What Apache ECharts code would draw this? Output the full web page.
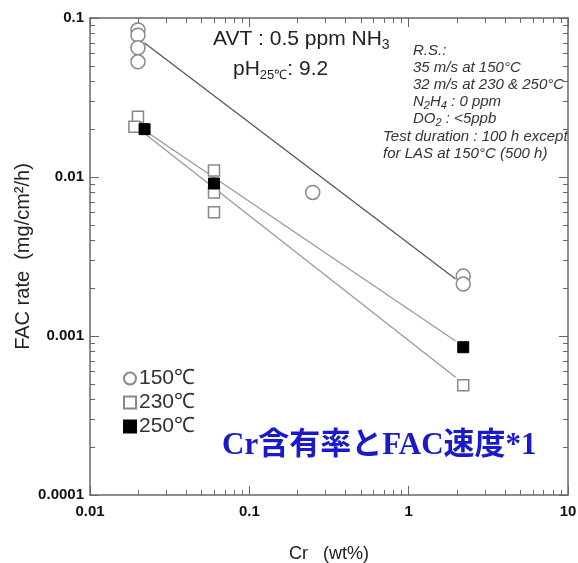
<!DOCTYPE html>
<html>
<head>
<meta charset="utf-8">
<script src="https://cdn.jsdelivr.net/npm/echarts@6/dist/echarts.min.js"></script>
<style>
html,body{margin:0;padding:0;background:#fff;}
#main{width:578px;height:563px;}
</style>
</head>
<body>
<div id="main"></div>
<script>
// ---- data ----
const x150 = [0.02, 0.02, 0.02, 0.02, 0.25, 2.2, 2.2];
const y150 = [0.084, 0.078, 0.065, 0.053, 0.008, 0.00238, 0.00212];
const x230 = [0.02, 0.019, 0.06, 0.06, 0.06, 2.2];
const y230 = [0.0239, 0.0207, 0.011, 0.008, 0.006, 0.00049];
const x250 = [0.022, 0.06, 2.2];
const y250 = [0.02, 0.0091, 0.00085];
const fitX = [0.022, 1.97];
const fit150 = [0.0697, 0.00228];
const fit230 = [0.0188, 0.00055];
const fit250 = [0.0196, 0.00093];
const seriesNames = ['150℃', '230℃', '250℃'];
const xTickLabels = ['0.01', '0.1', '1', '10'];
const yTickLabels = ['0.0001', '0.001', '0.01', '0.1'];
const xMin = 0.01, xMax = 10, yMin = 0.0001, yMax = 0.1;

const zip = (a, b) => a.map((v, i) => [v, b[i]]);
function fmt(list) {
  return function (v) {
    for (const s of list) { if (Math.abs(Math.log10(v) - Math.log10(parseFloat(s))) < 1e-6) return s; }
    return '';
  };
}

const chart = echarts.init(document.getElementById('main'), null, {renderer: 'canvas'});
const FONT = '"Liberation Sans", Arial, sans-serif';
const axisColor = '#666';

const baseAxis = {
  type: 'log', logBase: 10,
  axisLine: {show: true, onZero: false, lineStyle: {color: axisColor, width: 1.5}},
  axisTick: {show: true, inside: true, length: 9, lineStyle: {color: axisColor, width: 1}},
  splitLine: {show: false},
  minorTick: {show: false}
};

const option = {
  backgroundColor: '#fff',
  animation: false,
  grid: {left: 90, top: 18, width: 478, height: 477, containLabel: false, outerBoundsMode: 'none'},
  xAxis: [
    Object.assign({}, baseAxis, {
      min: xMin, max: xMax, position: 'bottom',
      name: 'Cr   (wt%)', nameLocation: 'middle', nameGap: 50,
      nameTextStyle: {fontFamily: FONT, fontSize: 18, color: '#222'},
      axisLabel: {show: true, margin: 9, fontFamily: FONT, fontSize: 15, fontWeight: 'bold', color: '#111', formatter: fmt(xTickLabels)}
    }),
    Object.assign({}, baseAxis, {
      min: xMin, max: xMax, position: 'top', axisLabel: {show: false}
    })
  ],
  yAxis: [
    Object.assign({}, baseAxis, {
      min: yMin, max: yMax, position: 'left',
      name: 'FAC rate  (mg/cm²/h)', nameLocation: 'middle', nameGap: 57, nameMoveOverlap: false,
      nameTextStyle: {fontFamily: FONT, fontSize: 20, color: '#222'},
      axisLabel: {show: true, margin: 6, fontFamily: FONT, fontSize: 15, fontWeight: 'bold', color: '#111', formatter: fmt(yTickLabels)}
    }),
    Object.assign({}, baseAxis, {
      min: yMin, max: yMax, position: 'right', axisLabel: {show: false}
    })
  ],
  legend: {
    orient: 'vertical', left: 118, top: 363,
    itemWidth: 12, itemHeight: 12, itemGap: 3,
    data: seriesNames,
    textStyle: {fontFamily: FONT, fontSize: 21, color: '#333', padding: [0, 0, 0, -2]}
  },
  series: [
    {type: 'line', name: 'fit150', data: zip(fitX, fit150), symbol: 'none', lineStyle: {color: '#555', width: 1.3}, z: 1, silent: true},
    {type: 'line', name: 'fit230', data: zip(fitX, fit230), symbol: 'none', lineStyle: {color: '#999', width: 1.3}, z: 1, silent: true},
    {type: 'line', name: 'fit250', data: zip(fitX, fit250), symbol: 'none', lineStyle: {color: '#999', width: 1.3}, z: 1, silent: true},
    {type: 'scatter', name: seriesNames[0], data: zip(x150, y150), symbol: 'circle', symbolSize: 14,
      itemStyle: {color: '#fff', borderColor: '#888', borderWidth: 1.5, opacity: 1}, z: 3},
    {type: 'scatter', name: seriesNames[1], data: zip(x230, y230), symbol: 'rect', symbolSize: 11,
      itemStyle: {color: '#fff', borderColor: '#888', borderWidth: 1.5, opacity: 1}, z: 3},
    {type: 'scatter', name: seriesNames[2], data: zip(x250, y250), symbol: 'rect', symbolSize: 11,
      itemStyle: {color: '#000', borderColor: '#000', borderWidth: 1, opacity: 1}, z: 4}
  ]
};
chart.setOption(option);

// annotations + minor ticks (positions computed from the axes)
const ITAL = {fontFamily: FONT, fontStyle: 'italic', fontSize: 15, fill: '#333'};
const SUBI = {fontFamily: FONT, fontStyle: 'italic', fontSize: 11, padding: [8, 0, 0, 0], fill: '#333'};
const graphics = [
  {type: 'text', left: 213, top: 29, style: {
    text: 'AVT : 0.5 ppm NH{s|3}', fontFamily: FONT, fontSize: 21, fill: '#222',
    rich: {s: {fontFamily: FONT, fontSize: 14, padding: [11, 0, 0, 0], fill: '#222'}}}},
  {type: 'text', left: 233, top: 59, style: {
    text: 'pH{s|25℃}: 9.2', fontFamily: FONT, fontSize: 21, fill: '#222',
    rich: {s: {fontFamily: FONT, fontSize: 13, padding: [11, 0, 0, 0], fill: '#222'}}}},
  {type: 'text', left: 413, top: 43, style: Object.assign({text: 'R.S.:'}, ITAL)},
  {type: 'text', left: 413, top: 60, style: Object.assign({text: '35 m/s at 150°C'}, ITAL)},
  {type: 'text', left: 413, top: 77, style: Object.assign({text: '32 m/s at 230 & 250°C'}, ITAL)},
  {type: 'text', left: 413, top: 94, style: Object.assign({text: 'N{s|2}H{s|4} : 0 ppm', rich: {s: SUBI}}, ITAL)},
  {type: 'text', left: 413, top: 111, style: Object.assign({text: 'DO{s|2} : <5ppb', rich: {s: SUBI}}, ITAL)},
  {type: 'text', left: 383, top: 129, style: Object.assign({text: 'Test duration : 100 h except'}, ITAL)},
  {type: 'text', left: 383, top: 146, style: Object.assign({text: 'for LAS at 150°C (500 h)'}, ITAL)},
  {type: 'text', left: 222, top: 430, style: {
    text: 'Cr含有率とFAC速度*1', fontFamily: '"Liberation Serif", "Noto Sans CJK JP", serif',
    fontSize: 31, fontWeight: 'bold', fill: '#1a1acc'}}
];

const xL = chart.convertToPixel({xAxisIndex: 0}, xMin);
const xR = chart.convertToPixel({xAxisIndex: 0}, xMax);
const yB = chart.convertToPixel({yAxisIndex: 0}, yMin);
const yT = chart.convertToPixel({yAxisIndex: 0}, yMax);
const minorLen = 5;
const tickStyle = {stroke: axisColor, lineWidth: 1};
for (let e = Math.log10(xMin); e < Math.log10(xMax) - 1e-9; e++) {
  for (let k = 2; k <= 9; k++) {
    const px = Math.round(chart.convertToPixel({xAxisIndex: 0}, k * Math.pow(10, e))) + 0.5;
    graphics.push({type: 'line', silent: true, shape: {x1: px, y1: yB, x2: px, y2: yB - minorLen}, style: tickStyle, z: 5});
    graphics.push({type: 'line', silent: true, shape: {x1: px, y1: yT, x2: px, y2: yT + minorLen}, style: tickStyle, z: 5});
  }
}
for (let e = Math.log10(yMin); e < Math.log10(yMax) - 1e-9; e++) {
  for (let k = 2; k <= 9; k++) {
    const py = Math.round(chart.convertToPixel({yAxisIndex: 0}, k * Math.pow(10, e))) + 0.5;
    graphics.push({type: 'line', silent: true, shape: {x1: xL, y1: py, x2: xL + minorLen, y2: py}, style: tickStyle, z: 5});
    graphics.push({type: 'line', silent: true, shape: {x1: xR, y1: py, x2: xR - minorLen, y2: py}, style: tickStyle, z: 5});
  }
}
chart.setOption({graphic: graphics});
</script>
</body>
</html>
